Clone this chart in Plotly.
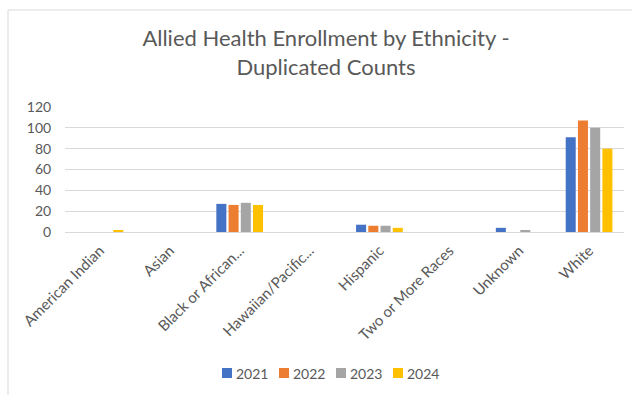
import plotly.graph_objects as go

categories = ["American Indian", "Asian", "Black or African...", "Hawaiian/Pacific...",
              "Hispanic", "Two or More Races", "Unknown", "White"]
years = ["2021", "2022", "2023", "2024"]
v2021 = [0, 0, 27, 0, 7, 0, 4, 91]
v2022 = [0, 0, 26, 0, 6, 0, 0, 107]
v2023 = [0, 0, 28, 0, 6, 0, 1, 100]
v2024 = [1, 0, 26, 0, 4, 0, 0, 80]
series = [v2021, v2022, v2023, v2024]
colors = ["#4472C4", "#ED7D31", "#A5A5A5", "#FFC000"]
y_ticks = [0, 20, 40, 60, 80, 100, 120]

W, H = 632, 395
L, R, T, B = 65, 8, 107, 163
pw, ph = W - L - R, H - T - B

def px_x(x):
    return (x - L) / pw

def px_y(y):
    return (H - B - y) / ph

fig = go.Figure()
for name, vals, c in zip(years, series, colors):
    fig.add_trace(go.Bar(x=categories, y=vals, name=name, marker_color=c,
                         marker_line_width=0, showlegend=False))

font_family = "Lato, 'Open Sans', sans-serif"
txt = "#595959"

# legend drawn as swatch + label per series
shapes = [
    dict(type="line", xref="paper", yref="paper",
         x0=px_x(8), x1=px_x(8), y0=px_y(10), y1=px_y(400),
         line=dict(color="#d9d9d9", width=1)),
    dict(type="line", xref="paper", yref="paper",
         x0=px_x(8), x1=px_x(640), y0=px_y(10), y1=px_y(10),
         line=dict(color="#d9d9d9", width=1)),
]
annotations = []
leg_x0, leg_step, leg_y = 222, 57, 373
for i, (name, c) in enumerate(zip(years, colors)):
    sx = leg_x0 + i * leg_step
    shapes.append(dict(type="rect", xref="paper", yref="paper",
                       x0=px_x(sx), x1=px_x(sx + 10), y0=px_y(leg_y + 5), y1=px_y(leg_y - 5),
                       fillcolor=c, line=dict(width=0)))
    annotations.append(dict(text=name, xref="paper", yref="paper",
                            x=px_x(sx + 12), y=px_y(leg_y), xanchor="left", yanchor="middle",
                            showarrow=False, font=dict(size=14, color=txt, family=font_family)))

fig.update_layout(
    width=W, height=H,
    margin=dict(l=L, r=R, t=T, b=B),
    paper_bgcolor="white", plot_bgcolor="white",
    barmode="group", bargap=0.30, bargroupgap=0.18,
    font=dict(family=font_family, color=txt, size=13),
    title=dict(text="Allied Health Enrollment by Ethnicity -<br>Duplicated Counts",
               x=326 / W, xref="container", xanchor="center",
               y=1 - 46 / H, yref="container", yanchor="top",
               font=dict(size=22, color=txt, family=font_family)),
    xaxis=dict(tickangle=-45, showgrid=False, showline=False,
               ticks="outside", ticklen=3, tickcolor="rgba(0,0,0,0)",
               tickfont=dict(size=15, color=txt)),
    yaxis=dict(range=[0, 120], tickvals=y_ticks, showgrid=True, gridcolor="#d9d9d9",
               gridwidth=1, zeroline=True, zerolinecolor="#d9d9d9", zerolinewidth=1,
               ticks="outside", ticklen=10, tickcolor="rgba(0,0,0,0)",
               tickfont=dict(size=14, color=txt)),
    shapes=shapes,
    annotations=annotations,
)

fig.write_html("out.html")
